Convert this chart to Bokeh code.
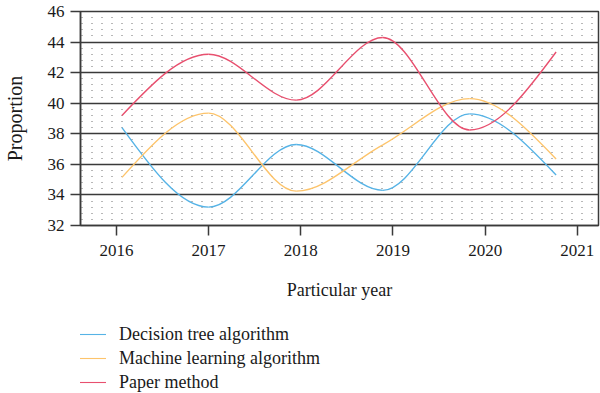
import numpy as np
from bokeh.plotting import figure
from bokeh.layouts import column
from bokeh.models import SingleIntervalTicker, FixedTicker, Legend, LegendItem, Range1d
from bokeh.embed import file_html
from bokeh.resources import INLINE

# ---- data ----
x_pos = [2016.06, 2017.0, 2017.95, 2018.89, 2019.83, 2020.77]
decision_tree = [38.4, 33.2, 37.3, 34.3, 39.3, 35.3]
machine_learning = [35.15, 39.35, 34.25, 37.28, 40.3, 36.35]
paper_method = [39.2, 43.2, 40.2, 44.3, 38.25, 43.35]
year_ticks = [2016, 2017, 2018, 2019, 2020, 2021]
series_names = ["Decision tree algorithm", "Machine learning algorithm", "Paper method"]
colors = ["#56b3e6", "#fdc46b", "#e8506f"]

FONT = "Liberation Serif"


def monotone_bezier(xs, ys):
    """Monotone cubic (Fritsch-Carlson / d3 monotoneX) as Bezier segments."""
    x = np.asarray(xs, float)
    y = np.asarray(ys, float)
    n = len(x)
    h = np.diff(x)
    s = np.diff(y) / h
    t = np.zeros(n)
    for i in range(1, n - 1):
        s0, s1 = s[i - 1], s[i]
        h0, h1 = h[i - 1], h[i]
        p_ = (s0 * h1 + s1 * h0) / (h0 + h1)
        t[i] = (np.sign(s0) + np.sign(s1)) * min(abs(s0), abs(s1), 0.5 * abs(p_))
    t[0] = (3 * s[0] - t[1]) / 2
    t[-1] = (3 * s[-1] - t[-2]) / 2
    x0, x1 = x[:-1], x[1:]
    y0, y1 = y[:-1], y[1:]
    return dict(x0=x0, y0=y0, x1=x1, y1=y1,
                cx0=x0 + h / 3, cy0=y0 + h / 3 * t[:-1],
                cx1=x1 - h / 3, cy1=y1 - h / 3 * t[1:])


p = figure(width=600, height=302, output_backend="svg", toolbar_location=None,
           x_range=Range1d(2015.61, 2021.23), y_range=Range1d(32, 46),
           min_border_top=11, min_border_right=2, min_border_left=77, min_border_bottom=74)

p.background_fill_color = "white"
p.outline_line_color = "#3a3a3a"
p.outline_line_width = 1.5

# axes
p.xaxis.ticker = FixedTicker(ticks=year_ticks)
p.yaxis.ticker = SingleIntervalTicker(interval=2, num_minor_ticks=5)
for ax in (p.xaxis[0], p.yaxis[0]):
    ax.axis_line_color = "#3a3a3a"
    ax.axis_line_width = 1.5
    ax.major_tick_line_color = "#3a3a3a"
    ax.major_tick_line_width = 1.5
    ax.major_tick_out = 10
    ax.major_tick_in = 0
    ax.minor_tick_line_color = None
    ax.major_label_text_font = FONT
    ax.major_label_text_font_size = "17px"
    ax.major_label_text_color = "#1a1a1a"
    ax.axis_label_text_font = FONT
    ax.axis_label_text_font_style = "normal"
    ax.axis_label_text_color = "#1a1a1a"

p.xaxis.major_label_standoff = 9
p.yaxis.major_label_standoff = 6
p.xaxis.axis_label = "Particular year"
p.yaxis.axis_label = "Proportion"
p.xaxis.axis_label_text_font_size = "18px"
p.yaxis.axis_label_text_font_size = "20px"
p.xaxis.axis_label_standoff = 21
p.yaxis.axis_label_standoff = 19

# grids
p.xgrid.grid_line_color = None
p.ygrid.grid_line_color = "#3a3a3a"
p.ygrid.grid_line_width = 1.5
p.ygrid.minor_grid_line_color = "#707070"
p.ygrid.minor_grid_line_width = 1.1
p.ygrid.minor_grid_line_dash = "1 9"
p.ygrid.minor_grid_line_dash_offset = 9

# legend strip below the chart
p2 = figure(width=600, height=91, output_backend="svg", toolbar_location=None,
            x_range=Range1d(0, 1), y_range=Range1d(0, 1),
            x_axis_location=None, y_axis_location=None,
            min_border_top=0, min_border_right=0, min_border_left=0, min_border_bottom=0)
p2.grid.visible = False
p2.outline_line_color = None

items = []
for name, vals, col in zip(series_names, [decision_tree, machine_learning, paper_method], colors):
    seg = monotone_bezier(x_pos, vals)
    p.bezier(x0="x0", y0="y0", x1="x1", y1="y1", cx0="cx0", cy0="cy0",
             cx1="cx1", cy1="cy1", source=seg, line_color=col, line_width=1.4)
    # same data on the legend strip (outside its range, so only the legend glyph shows)
    r2 = p2.bezier(x0="x0", y0="y0", x1="x1", y1="y1", cx0="cx0", cy0="cy0",
                   cx1="cx1", cy1="cy1", source=dict(seg), line_color=col, line_width=1.1)
    items.append(LegendItem(label=name, renderers=[r2]))

legend = Legend(items=items, location=(-4, 0), orientation="vertical")
legend.label_text_font = FONT
legend.label_text_font_size = "18px"
legend.label_text_color = "#1a1a1a"
legend.glyph_width = 30
legend.glyph_height = 22
legend.label_height = 22
legend.label_standoff = 13
legend.spacing = 2
legend.margin = 0
legend.padding = 2
legend.border_line_color = None
legend.background_fill_alpha = 0
p2.add_layout(legend)

open("out.html", "w").write(file_html(column(p, p2), INLINE))
